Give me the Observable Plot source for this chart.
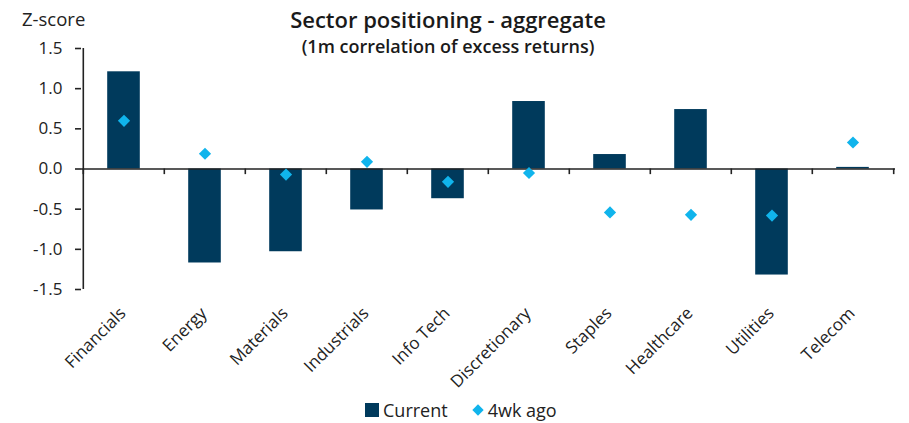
<!DOCTYPE html>
<html>
<head>
<meta charset="utf-8">
<script src="https://cdn.jsdelivr.net/npm/d3@7"></script>
<script src="https://cdn.jsdelivr.net/npm/@observablehq/plot@0.6"></script>
<style>
  body { margin: 0; background: #fff; font-family: "Open Sans", "Noto Sans", sans-serif; color: #222; }
  #wrap { position: relative; width: 909px; height: 423px; overflow: hidden; }
  #title { position: absolute; left: 0; width: 896px; top: 4px; text-align: center; font-size: 22px; font-weight: 600; color: #1a1a1a; }
  #subtitle { position: absolute; left: 0; width: 896px; top: 34px; text-align: center; font-size: 18px; font-weight: 600; color: #1a1a1a; }
  #ylab { position: absolute; left: 22px; top: 6px; font-size: 18.5px; color: #222; }
  #legend { position: absolute; top: 398px; left: 365px; font-size: 18px; color: #222; display: flex; align-items: center; }
  #legend .sw { display: inline-block; width: 14px; height: 14px; background: #003a5c; margin-right: 4px; }
  #legend .dm { display: inline-block; width: 8px; height: 8px; background: #10b4ec; transform: rotate(45deg); margin: 0 6px 0 26px; }
  #plot { position: absolute; left: 0; top: 0; }
</style>
</head>
<body>
<div id="wrap">
  <div id="plot"></div>
  <div id="ylab">Z-score</div>
  <div id="title">Sector positioning - aggregate</div>
  <div id="subtitle">(1m correlation of excess returns)</div>
  <div id="legend"><span class="sw"></span>Current<span class="dm"></span>4wk ago</div>
</div>
<script>
const categories = ["Financials", "Energy", "Materials", "Industrials", "Info Tech", "Discretionary", "Staples", "Healthcare", "Utilities", "Telecom"];
const current = [1.21, -1.17, -1.03, -0.51, -0.37, 0.84, 0.18, 0.74, -1.32, 0.02];
const fourWkAgo = [0.60, 0.19, -0.07, 0.09, -0.16, -0.05, -0.54, -0.57, -0.58, 0.33];
const yTicks = [-1.5, -1.0, -0.5, 0.0, 0.5, 1.0, 1.5];

const data = categories.map((c, i) => ({ cat: c, cur: current[i], ago: fourWkAgo[i] }));

const W = 909, H = 423, mL = 81, mR = 14, mT = 48, mB = 134;
const step = (W - mL - mR) / categories.length;

const chart = Plot.plot({
  width: W,
  height: H,
  marginLeft: mL,
  marginRight: mR,
  marginTop: mT,
  marginBottom: mB,
  style: { fontFamily: "'Open Sans', 'Noto Sans', sans-serif", color: "#222", background: "transparent" },
  x: { domain: categories, padding: 0 },
  y: { domain: [-1.5, 1.5] },
  marks: [
    Plot.barY(data, { x: "cat", y: "cur", fill: "#003a5c", insetLeft: (step - 33) / 2, insetRight: (step - 33) / 2 }),
    Plot.ruleY([0], { stroke: "#222", strokeWidth: 1.6 }),
    // category boundary ticks on the zero line
    Plot.ruleX(categories, { x: d => d, y1: 0, y2: -0.07, dx: -step / 2, stroke: "#222", strokeWidth: 1.6 }),
    Plot.ruleX([categories[categories.length - 1]], { x: d => d, y1: 0, y2: -0.07, dx: step / 2, stroke: "#222", strokeWidth: 1.6 }),
    // y axis line
    Plot.ruleX([categories[0]], { x: d => d, y1: -1.5, y2: 1.5, dx: -step / 2, stroke: "#222", strokeWidth: 1.6 }),
    Plot.dot(data, { x: "cat", y: "ago", symbol: "diamond2", r: 5.5, fill: "#10b4ec", stroke: "none" }),
    Plot.axisY({ ticks: yTicks, tickFormat: d => d.toFixed(1), tickSize: 6, tickPadding: 13, fontSize: 17, stroke: "#222", strokeWidth: 1.6, label: null }),
    Plot.axisX({ anchor: "bottom", tickSize: 0, tickRotate: -45, tickPadding: 21, dx: -1, fontSize: 17, label: null })
  ]
});
document.getElementById("plot").appendChild(chart);
</script>
</body>
</html>
